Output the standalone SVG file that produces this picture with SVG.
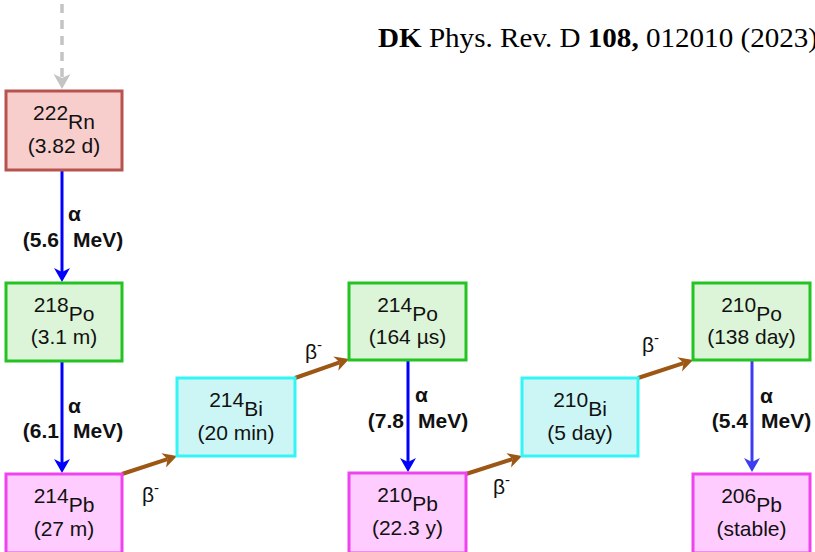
<svg xmlns="http://www.w3.org/2000/svg" width="815" height="552" viewBox="0 0 815 552">
<style>
  .box { stroke-width: 3; }
  .rn { fill: #f8cecc; stroke: #b85450; }
  .po { fill: #dcf5d8; stroke: #22c322; }
  .bi { fill: #ccf6f6; stroke: #33f5f5; }
  .pb { fill: #ffccff; stroke: #ee44ee; }
  .nt { font-family: "Liberation Sans", Arial, sans-serif; font-size: 21px; fill: #111; text-anchor: middle; }
  .al { font-family: "Liberation Sans", Arial, sans-serif; font-size: 21px; font-weight: bold; fill: #111; }
  .be { font-family: "Liberation Sans", Arial, sans-serif; font-size: 21px; fill: #111; }
  .blue { stroke: #0000ff; stroke-width: 3; fill: none; }
  .blue2 { stroke: #3c3cf0; stroke-width: 3; fill: none; }
  .brown { stroke: #9c5714; stroke-width: 4; fill: none; }
  .gray { stroke: #c4c4c4; stroke-width: 3.5; fill: none; stroke-dasharray: 9 7; }
  .title { font-family: "Liberation Serif", "Times New Roman", serif; font-size: 27px; fill: #000; }
</style>
<defs>
  <marker id="hBlue" markerUnits="userSpaceOnUse" markerWidth="20" markerHeight="20" viewBox="0 -10 16 20" refX="4" refY="0" orient="auto">
    <path d="M14,0 L0,-8 L4,0 L0,8 Z" fill="#0000ff"/>
  </marker>
  <marker id="hBlue2" markerUnits="userSpaceOnUse" markerWidth="20" markerHeight="20" viewBox="0 -10 16 20" refX="4" refY="0" orient="auto">
    <path d="M14,0 L0,-8 L4,0 L0,8 Z" fill="#3c3cf0"/>
  </marker>
  <marker id="hBrown" markerUnits="userSpaceOnUse" markerWidth="20" markerHeight="20" viewBox="0 -10 16 20" refX="4" refY="0" orient="auto">
    <path d="M14,0 L0,-7.5 L4,0 L0,7.5 Z" fill="#9c5714"/>
  </marker>
  <marker id="hGray" markerUnits="userSpaceOnUse" markerWidth="20" markerHeight="20" viewBox="0 -10 16 20" refX="4" refY="0" orient="auto">
    <path d="M15,0 L0,-8.5 L4,0 L0,8.5 Z" fill="#c4c4c4"/>
  </marker>
</defs>

<text class="title" x="378" y="47" textLength="440" lengthAdjust="spacingAndGlyphs"><tspan font-weight="bold">DK</tspan> Phys. Rev. D <tspan font-weight="bold">108,</tspan> 012010 (2023)</text>

<g id="connectors">
  <path class="gray" d="M62,4 L62,78" marker-end="url(#hGray)"/>
  <path class="blue" d="M62,170 L62,272" marker-end="url(#hBlue)"/>
  <path class="blue" d="M62,362 L62,463" marker-end="url(#hBlue)"/>
  <path class="blue" d="M408,360 L408,462" marker-end="url(#hBlue)"/>
  <path class="blue2" d="M752,360 L752,462" marker-end="url(#hBlue2)"/>
  <path class="brown" d="M122,474 L167.5,459.1" marker-end="url(#hBrown)"/>
  <path class="brown" d="M295,378 L339.6,362.3" marker-end="url(#hBrown)"/>
  <path class="brown" d="M466,474 L512.5,459.1" marker-end="url(#hBrown)"/>
  <path class="brown" d="M638,378 L683.5,363.1" marker-end="url(#hBrown)"/>

  <text class="al"><tspan x="68" y="221">α</tspan><tspan x="59" y="247" text-anchor="end">(5.6</tspan><tspan x="73" y="247">MeV)</tspan></text>
  <text class="al"><tspan x="68" y="413">α</tspan><tspan x="59" y="438" text-anchor="end">(6.1</tspan><tspan x="73" y="438">MeV)</tspan></text>
  <text class="al"><tspan x="415" y="402">α</tspan><tspan x="404" y="428" text-anchor="end">(7.8</tspan><tspan x="418" y="428">MeV)</tspan></text>
  <text class="al"><tspan x="760" y="403">α</tspan><tspan x="748" y="428" text-anchor="end">(5.4</tspan><tspan x="761" y="428">MeV)</tspan></text>

  <text class="be" x="142" y="502">β<tspan font-size="15" dy="-9">-</tspan></text>
  <text class="be" x="305" y="359">β<tspan font-size="15" dy="-9">-</tspan></text>
  <text class="be" x="493" y="494">β<tspan font-size="15" dy="-9">-</tspan></text>
  <text class="be" x="642" y="352">β<tspan font-size="15" dy="-9">-</tspan></text>
</g>

<g id="rn222">
  <rect class="box rn" x="6" y="91" width="116" height="79"/>
  <text class="nt" x="64" y="120"><tspan>222</tspan><tspan dy="9">Rn</tspan></text>
  <text class="nt" x="64" y="153">(3.82 d)</text>
</g>
<g id="po218">
  <rect class="box po" x="6" y="283" width="116" height="78"/>
  <text class="nt" x="64" y="312"><tspan>218</tspan><tspan dy="9">Po</tspan></text>
  <text class="nt" x="64" y="344">(3.1 m)</text>
</g>
<g id="pb214">
  <rect class="box pb" x="6" y="474" width="116" height="79"/>
  <text class="nt" x="64" y="503"><tspan>214</tspan><tspan dy="9">Pb</tspan></text>
  <text class="nt" x="64" y="536">(27 m)</text>
</g>
<g id="bi214">
  <rect class="box bi" x="177" y="378" width="118" height="78"/>
  <text class="nt" x="236" y="407"><tspan>214</tspan><tspan dy="9">Bi</tspan></text>
  <text class="nt" x="236" y="440">(20 min)</text>
</g>
<g id="po214">
  <rect class="box po" x="349" y="283" width="117" height="77"/>
  <text class="nt" x="407.5" y="312"><tspan>214</tspan><tspan dy="9">Po</tspan></text>
  <text class="nt" x="407.5" y="344">(164 µs)</text>
</g>
<g id="pb210">
  <rect class="box pb" x="349" y="473" width="117" height="80"/>
  <text class="nt" x="407.5" y="502"><tspan>210</tspan><tspan dy="9">Pb</tspan></text>
  <text class="nt" x="407.5" y="535">(22.3 y)</text>
</g>
<g id="bi210">
  <rect class="box bi" x="522" y="378" width="116" height="78"/>
  <text class="nt" x="580" y="407"><tspan>210</tspan><tspan dy="9">Bi</tspan></text>
  <text class="nt" x="580" y="440">(5 day)</text>
</g>
<g id="po210">
  <rect class="box po" x="693" y="283" width="117" height="77"/>
  <text class="nt" x="751.5" y="312"><tspan>210</tspan><tspan dy="9">Po</tspan></text>
  <text class="nt" x="751.5" y="344">(138 day)</text>
</g>
<g id="pb206">
  <rect class="box pb" x="693" y="474" width="117" height="79"/>
  <text class="nt" x="751.5" y="503"><tspan>206</tspan><tspan dy="9">Pb</tspan></text>
  <text class="nt" x="751.5" y="536">(stable)</text>
</g>
</svg>
